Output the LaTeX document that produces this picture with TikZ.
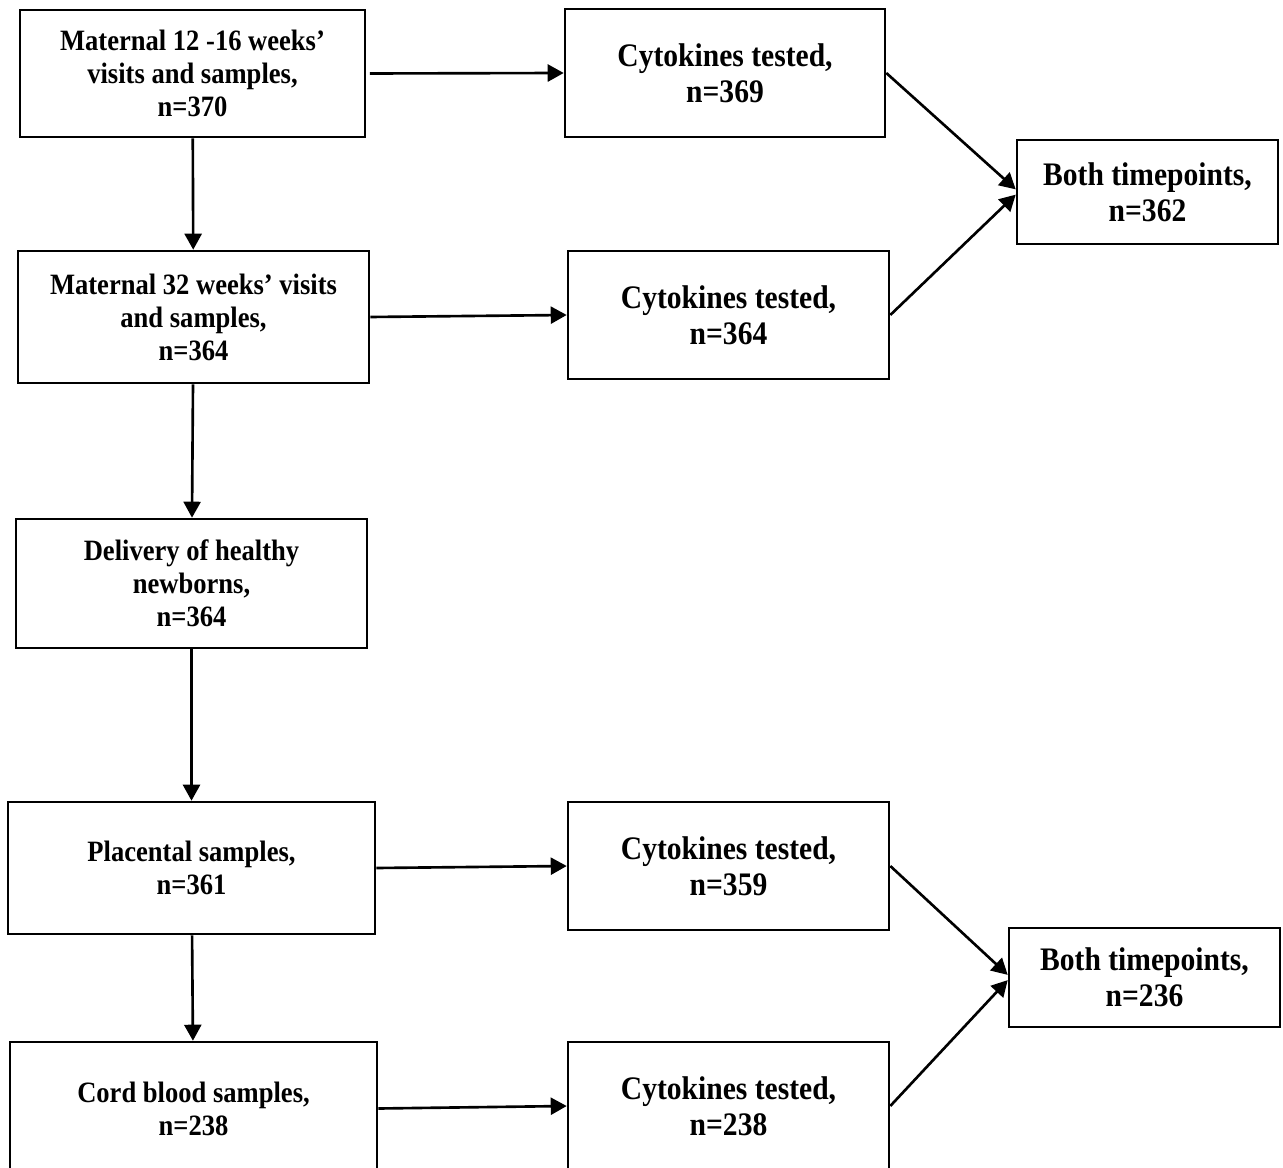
\documentclass[tikz,border=0pt]{standalone}
\usepackage{fontspec}
\setmainfont{Liberation Serif}[FakeStretch=0.9]
\usepackage{tikz}
\usetikzlibrary{arrows.meta,calc,positioning}
\tikzset{
    mybox/.style={draw=black,line width=1.5pt,align=center,inner sep=2pt,
                  font=\fontsize{16.8}{18.8}\selectfont\bfseries},
    mybigbox/.style={mybox,font=\fontsize{18.7}{20.5}\selectfont\bfseries},
    myarrow/.style={line width=1.5pt,draw=black,-{Triangle[length=3.2mm,width=3.4mm]}}
}
\begin{document}
\begin{tikzpicture}[x=0.02cm,y=-0.02cm]
  \useasboundingbox (0,0) rectangle (1283,1168);

  % left column
  \node[mybox,minimum width=6.9cm,minimum height=2.54cm] (M1) at (192.5,73.5)
    {Maternal 12 -16 weeks’\\visits and samples,\\n=370};
  \node[mybox,minimum width=7.02cm,minimum height=2.64cm] (M2) at (193.5,317)
    {Maternal 32 weeks’ visits\\and samples,\\n=364};
  \node[mybox,minimum width=7.02cm,minimum height=2.58cm] (Del) at (191.5,583.5)
    {Delivery of healthy\\newborns,\\n=364};
  \node[mybox,minimum width=7.34cm,minimum height=2.64cm] (Pla) at (191.5,868)
    {Placental samples,\\n=361};
  \node[mybox,minimum width=7.34cm,minimum height=2.66cm] (Cord) at (193.5,1108.5)
    {Cord blood samples,\\n=238};

  % cytokine boxes
  \node[mybigbox,minimum width=6.4cm,minimum height=2.56cm] (CyA) at (725,73)
    {Cytokines tested,\\n=369};
  \node[mybigbox,minimum width=6.42cm,minimum height=2.56cm] (CyB) at (728.5,315)
    {Cytokines tested,\\n=364};
  \node[mybigbox,minimum width=6.42cm,minimum height=2.56cm] (CyC) at (728.5,866)
    {Cytokines tested,\\n=359};
  \node[mybigbox,minimum width=6.42cm,minimum height=2.56cm] (CyD) at (728.5,1106)
    {Cytokines tested,\\n=238};

  % both timepoints
  \node[mybigbox,minimum width=5.22cm,minimum height=2.08cm] (BothA) at (1147.5,192)
    {Both timepoints,\\n=362};
  \node[mybigbox,minimum width=5.42cm,minimum height=1.98cm] (BothB) at (1144.5,977.5)
    {Both timepoints,\\n=236};

  % vertical arrows
  \draw[myarrow] (M1) -- (M2);
  \draw[myarrow] (M2) -- (Del);
  \draw[myarrow] (Del) -- (Pla);
  \draw[myarrow] (Pla) -- (Cord);

  % horizontal arrows
  \draw[myarrow] ([xshift=2pt]M1.east) -- (CyA.west);
  \draw[myarrow] (M2.east) -- (CyB.west);
  \draw[myarrow] (Pla.east) -- (CyC.west);
  \draw[myarrow] (Cord.east) -- (CyD.west);

  % merging arrows
  \draw[myarrow] (CyA.east) -- ([yshift=1.5pt]BothA.west);
  \draw[myarrow] (CyB.east) -- ([yshift=-1.5pt]BothA.west);
  \draw[myarrow] (CyC.east) -- ([yshift=1.5pt]BothB.west);
  \draw[myarrow] (CyD.east) -- ([yshift=-1.5pt]BothB.west);
\end{tikzpicture}
\end{document}
